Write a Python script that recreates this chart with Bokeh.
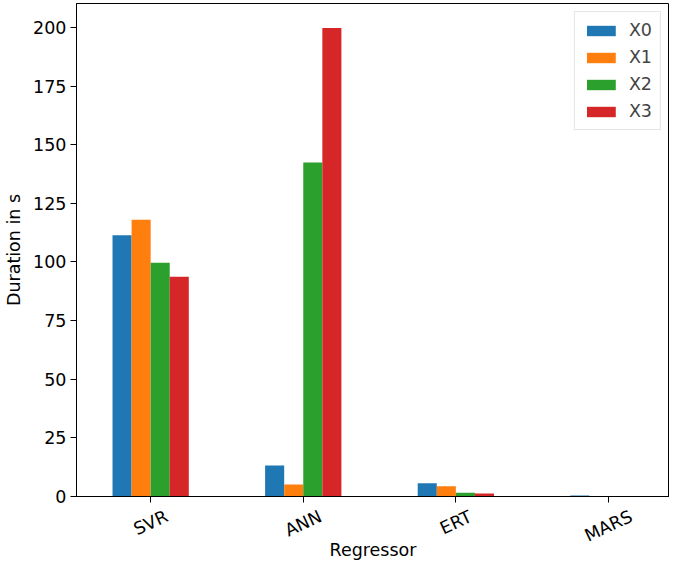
from bokeh.plotting import figure
from bokeh.layouts import column
from bokeh.models import ColumnDataSource, FixedTicker, Range1d, Legend, LegendItem
from bokeh.core.properties import value
from bokeh.transform import dodge
from bokeh.embed import file_html
from bokeh.resources import INLINE
import math

regressors = ["SVR", "ANN", "ERT", "MARS"]
series = ["X0", "X1", "X2", "X3"]
x0 = [111.4, 13.2, 5.7, 0.4]
x1 = [118.0, 5.1, 4.4, 0.1]
x2 = [99.7, 142.4, 1.6, 0.1]
x3 = [93.7, 199.8, 1.3, 0.1]
yticks = [0, 25, 50, 75, 100, 125, 150, 175, 200]
colors = ["#1f77b4", "#ff7f0e", "#2ca02c", "#d62728"]
x_title = "Regressor"
y_title = "Duration in s"

FONT = "DejaVu Sans"
FS = 17.5
ANGLE = math.radians(25)
W = 669
H_MAIN = 506
H_LAB = 54
BORDER_L = 76
AXIS_GAP = 10  # frame bottom to top of the label strip (= bottom border of main plot)

# approximate DejaVu Sans advance widths (em), used to centre the rotated tick labels
_cw = {"S": 0.635, "V": 0.684, "R": 0.695, "A": 0.684, "N": 0.748, "E": 0.632,
       "T": 0.611, "M": 0.863}


def _label_drop(t):
    w = sum(_cw.get(ch, 0.65) for ch in t) * FS
    h = 0.73 * FS
    return 13 + (w * math.sin(ANGLE) + h * math.cos(ANGLE)) / 2


idx = list(range(len(regressors)))
src = ColumnDataSource(dict(idx=idx, X0=x0, X1=x1, X2=x2, X3=x3))

xr = Range1d(-0.486, 3.40)
p = figure(width=W, height=H_MAIN, output_backend="svg", toolbar_location=None,
           x_range=xr, y_range=Range1d(0, 210.2),
           min_border_left=BORDER_L, min_border_right=0, min_border_top=3,
           min_border_bottom=AXIS_GAP)

bw = 0.125
offsets = [-1.5 * bw, -0.5 * bw, 0.5 * bw, 1.5 * bw]
items = []
for s, c, off in zip(series, colors, offsets):
    r = p.vbar(x=dodge("idx", off, range=xr), top=s, width=bw, source=src,
               fill_color=c, line_color=None)
    items.append(LegendItem(label=s, renderers=[r]))

legend = Legend(items=items, location="top_right")
legend.label_text_font = FONT
legend.label_text_font_size = "17.5px"
legend.glyph_width = 36
legend.glyph_height = 13
legend.spacing = 7
legend.padding = 8
legend.margin = 8
legend.label_standoff = 10
legend.border_line_color = "#cccccc"
legend.border_line_width = 1
legend.background_fill_alpha = 0.8
p.add_layout(legend)

p.xgrid.visible = False
p.ygrid.visible = False
p.outline_line_color = "black"
p.outline_line_width = 1

# category tick marks drawn as unlabelled minor ticks; names are drawn below (rotated)
p.xaxis.ticker = FixedTicker(ticks=[], minor_ticks=idx)
p.xaxis.minor_tick_out = 6
p.xaxis.minor_tick_in = 0
p.xaxis.minor_tick_line_color = "black"
p.xaxis.major_label_standoff = 0
p.xaxis.axis_line_color = "black"

p.yaxis.ticker = FixedTicker(ticks=yticks)
p.yaxis.minor_tick_line_color = None
p.yaxis.major_tick_out = 6
p.yaxis.major_tick_in = 0
p.yaxis.major_tick_line_color = "black"
p.yaxis.axis_line_color = "black"
p.yaxis.major_label_text_font = FONT
p.yaxis.major_label_text_font_size = "17.5px"
p.yaxis.major_label_text_color = "black"
p.yaxis.major_label_standoff = 4
p.yaxis.axis_label = y_title
p.yaxis.axis_label_text_font = FONT
p.yaxis.axis_label_text_font_size = "17.5px"
p.yaxis.axis_label_text_font_style = "normal"
p.yaxis.axis_label_text_color = "black"
p.yaxis.axis_label_standoff = 6

# strip below the plot: rotated category names and the x-axis title (1 y unit = 1 px)
p2 = figure(width=W, height=H_LAB, output_backend="svg", toolbar_location=None,
            x_range=xr, y_range=Range1d(-H_LAB, 0),
            x_axis_location=None, y_axis_location=None,
            min_border_left=BORDER_L, min_border_right=0, min_border_top=0,
            min_border_bottom=0)
p2.outline_line_color = None
p2.xgrid.visible = False
p2.ygrid.visible = False
lab_src = ColumnDataSource(dict(idx=idx, name=regressors,
                                y=[-(_label_drop(t) - AXIS_GAP) for t in regressors]))
p2.text(x="idx", y="y", text="name", source=lab_src, angle=ANGLE,
        text_align="center", text_baseline="middle", text_font=value(FONT),
        text_font_size="17.5px", text_color="black")
p2.text(x=[(xr.start + xr.end) / 2], y=[-H_LAB + 1], text=[x_title],
        text_align="center", text_baseline="bottom", text_font=value(FONT),
        text_font_size="17.5px", text_color="black")

layout = column(p, p2, spacing=0)
open("out.html", "w").write(file_html(layout, INLINE))
